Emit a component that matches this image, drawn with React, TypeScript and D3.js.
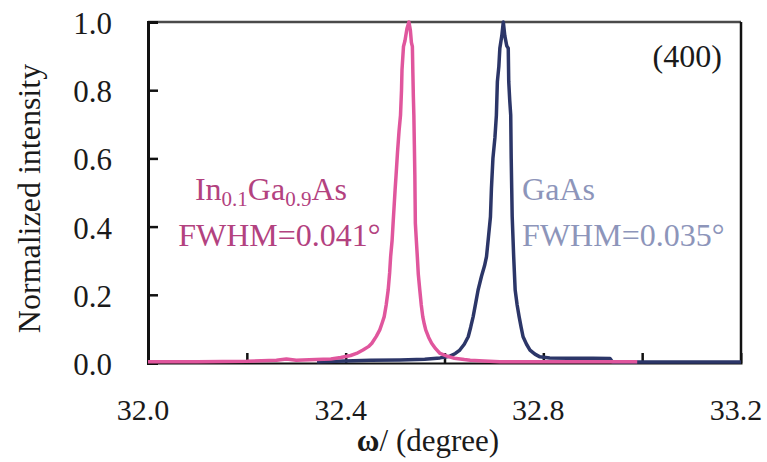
import React, { useEffect, useRef } from 'react';
import * as d3 from 'd3';

// x tick labels and tick marks (degree)
const xLabelValues = [32.0, 32.4, 32.8, 33.2];
const xTickValues = [32.2, 32.4, 32.6, 32.8, 33.0];
const yTickValues = [0.0, 0.2, 0.4, 0.6, 0.8, 1.0];

// In0.1Ga0.9As rocking curve
const inGaAsOmega = [
  32.0, 32.1, 32.2, 32.26, 32.28, 32.3, 32.34, 32.37, 32.39, 32.41, 32.422, 32.435, 32.446, 32.453,
  32.462, 32.469, 32.474, 32.478, 32.482, 32.486, 32.489, 32.491, 32.494, 32.496, 32.5, 32.502,
  32.505, 32.508, 32.511, 32.513, 32.514, 32.517, 32.52, 32.524, 32.528, 32.531, 32.533, 32.535,
  32.536, 32.537, 32.538, 32.539, 32.54, 32.5405, 32.541, 32.543, 32.545, 32.547, 32.55, 32.553,
  32.556, 32.559, 32.562, 32.568, 32.574, 32.582, 32.591, 32.605, 32.62, 32.64, 32.652, 32.68,
  32.712, 32.8, 32.9, 32.99,
];
const inGaAsIntensity = [
  0.004, 0.004, 0.005, 0.008, 0.012, 0.008, 0.01, 0.012, 0.016, 0.022, 0.028, 0.038, 0.048, 0.058,
  0.078, 0.097, 0.118, 0.136, 0.17, 0.214, 0.265, 0.312, 0.36, 0.41, 0.507, 0.551,
  0.62, 0.68, 0.727, 0.8, 0.86, 0.928, 0.945, 0.98, 1.0, 0.975, 0.94, 0.928,
  0.85, 0.78, 0.727, 0.64, 0.551, 0.48, 0.41, 0.36, 0.312, 0.26, 0.214, 0.17,
  0.136, 0.115, 0.097, 0.075, 0.058, 0.042, 0.028, 0.02, 0.014, 0.01, 0.008, 0.006,
  0.004, 0.004, 0.004, 0.004,
];

// GaAs rocking curve
const gaAsOmega = [
  32.342, 32.399, 32.45, 32.51, 32.56, 32.591, 32.611, 32.622, 32.631, 32.64, 32.648, 32.653,
  32.658, 32.663, 32.668, 32.675, 32.681, 32.685, 32.689, 32.693, 32.695, 32.698, 32.702, 32.705,
  32.707, 32.71, 32.712, 32.716, 32.719, 32.722, 32.726, 32.729, 32.73, 32.732, 32.734, 32.735,
  32.736, 32.737, 32.74, 32.743, 32.747, 32.751, 32.755, 32.759, 32.766, 32.773, 32.783, 32.793,
  32.813, 32.85, 32.9, 32.935, 32.94, 33.05, 33.2,
];
const gaAsIntensity = [
  0.004, 0.006, 0.008, 0.009, 0.011, 0.015, 0.02, 0.028, 0.038, 0.055, 0.077, 0.105,
  0.136, 0.175, 0.214, 0.255, 0.285, 0.312, 0.37, 0.429, 0.513, 0.6, 0.66, 0.727,
  0.825, 0.87, 0.923, 0.96, 1.0, 0.96, 0.93, 0.923, 0.825, 0.77, 0.727, 0.6,
  0.513, 0.429, 0.312, 0.214, 0.17, 0.136, 0.105, 0.077, 0.055, 0.038, 0.026, 0.018,
  0.015, 0.014, 0.014, 0.013, 0.003, 0.003, 0.003,
];

const App = () => {
  const svgRef = useRef<SVGSVGElement>(null);

  useEffect(() => {
    const W = 767;
    const H = 462;
    const margin = { top: 22, right: 26, bottom: 99, left: 148 };

    const svg = d3.select(svgRef.current);
    svg.selectAll('g, line, path, text').remove();
    svg.attr('width', W).attr('height', H);

    const x = d3.scaleLinear().domain([32.0, 33.2]).range([margin.left, W - margin.right]);
    const y = d3.scaleLinear().domain([0, 1]).range([H - margin.bottom, margin.top]);

    const [x0, x1] = x.range();
    const [y0, y1] = y.range();

    // frame: top grey, right black
    svg.append('line').attr('x1', x0).attr('x2', x1).attr('y1', y1).attr('y2', y1)
      .attr('stroke', '#4a4a4a').attr('stroke-width', 2.5);
    svg.append('line').attr('x1', x1).attr('x2', x1).attr('y1', y1).attr('y2', y0)
      .attr('stroke', '#111').attr('stroke-width', 2.5);

    // bottom axis, inward ticks
    svg.append('g')
      .attr('transform', `translate(0,${y0})`)
      .call(d3.axisBottom(x).tickValues(xTickValues).tickSize(-10).tickFormat(() => ''))
      .call(g => g.select('.domain').attr('stroke', '#111').attr('stroke-width', 2))
      .call(g => g.selectAll('.tick line').attr('stroke', '#111').attr('stroke-width', 2.5));

    svg.append('g')
      .selectAll('text')
      .data(xLabelValues)
      .enter().append('text')
      .attr('class', 'serif')
      .attr('x', d => x(d) - 5)
      .attr('y', y0 + 57)
      .attr('text-anchor', 'middle')
      .attr('font-size', 30)
      .attr('fill', '#1a1a1a')
      .text(d => d.toFixed(1));

    // left axis, inward ticks
    svg.append('g')
      .attr('transform', `translate(${x0},0)`)
      .call(d3.axisLeft(y).tickValues(yTickValues).tickSize(-10).tickFormat(() => ''))
      .call(g => g.select('.domain').attr('stroke', '#111').attr('stroke-width', 3))
      .call(g => g.selectAll('.tick line').attr('stroke', '#111').attr('stroke-width', 2.5));

    svg.append('g')
      .selectAll('text')
      .data(yTickValues)
      .enter().append('text')
      .attr('class', 'serif')
      .attr('x', x0 - 36)
      .attr('y', d => y(d) + 12)
      .attr('text-anchor', 'end')
      .attr('font-size', 31)
      .attr('fill', '#1a1a1a')
      .text(d => d.toFixed(1));

    // axis titles
    svg.append('text')
      .attr('class', 'serif')
      .attr('transform', `translate(40,${(y0 + y1) / 2 + 6}) rotate(-90)`)
      .attr('text-anchor', 'middle')
      .attr('font-size', 32)
      .attr('fill', '#1a1a1a')
      .text('Normalized intensity');

    const xt = svg.append('text')
      .attr('class', 'serif')
      .attr('x', 428)
      .attr('y', 451)
      .attr('text-anchor', 'middle')
      .attr('font-size', 31)
      .attr('fill', '#1a1a1a');
    xt.append('tspan').attr('font-weight', 'bold').text('ω');
    xt.append('tspan').text('/ (degree)');

    // curves
    const gaAs = gaAsOmega.map((o, i) => ({ omega: o, v: gaAsIntensity[i] }));
    const inGaAs = inGaAsOmega.map((o, i) => ({ omega: o, v: inGaAsIntensity[i] }));

    const curve = d3.line<{ omega: number; v: number }>()
      .x(d => x(d.omega))
      .y(d => y(d.v));

    svg.append('path')
      .datum(gaAs)
      .attr('fill', 'none')
      .attr('stroke', '#2c3668')
      .attr('stroke-width', 3.5)
      .attr('stroke-linejoin', 'round')
      .attr('d', curve);

    svg.append('path')
      .datum(inGaAs)
      .attr('fill', 'none')
      .attr('stroke', '#e0569d')
      .attr('stroke-width', 3.5)
      .attr('stroke-linejoin', 'round')
      .attr('d', curve);

    // annotations
    const pink = '#b3427f';
    const slate = '#8d95ba';

    const t1 = svg.append('text')
      .attr('class', 'serif')
      .attr('x', x(32.095))
      .attr('y', y(0.478))
      .attr('font-size', 32)
      .attr('fill', pink);
    t1.append('tspan').text('In');
    t1.append('tspan').attr('font-size', 21).attr('dy', 6).text('0.1');
    t1.append('tspan').attr('dy', -6).text('Ga');
    t1.append('tspan').attr('font-size', 21).attr('dy', 6).text('0.9');
    t1.append('tspan').attr('dy', -6).text('As');

    svg.append('text')
      .attr('class', 'serif')
      .attr('x', x(32.061))
      .attr('y', y(0.343))
      .attr('font-size', 32)
      .attr('fill', pink)
      .text('FWHM=0.041°');

    svg.append('text')
      .attr('class', 'serif')
      .attr('x', x(32.757))
      .attr('y', y(0.478))
      .attr('font-size', 32)
      .attr('fill', slate)
      .text('GaAs');

    svg.append('text')
      .attr('class', 'serif')
      .attr('x', x(32.757))
      .attr('y', y(0.343))
      .attr('font-size', 32)
      .attr('fill', slate)
      .text('FWHM=0.035°');

    svg.append('text')
      .attr('class', 'serif')
      .attr('x', x(33.091))
      .attr('y', y(0.868))
      .attr('text-anchor', 'middle')
      .attr('font-size', 32)
      .attr('fill', '#1a1a1a')
      .text('(400)');
  }, []);

  return (
    <svg
      ref={svgRef}
      style={{ position: 'absolute', left: 0, top: 0, background: '#fff' }}
    >
      <style>{`.serif { font-family: 'Liberation Serif', 'Times New Roman', serif; }`}</style>
    </svg>
  );
};

export default App;
